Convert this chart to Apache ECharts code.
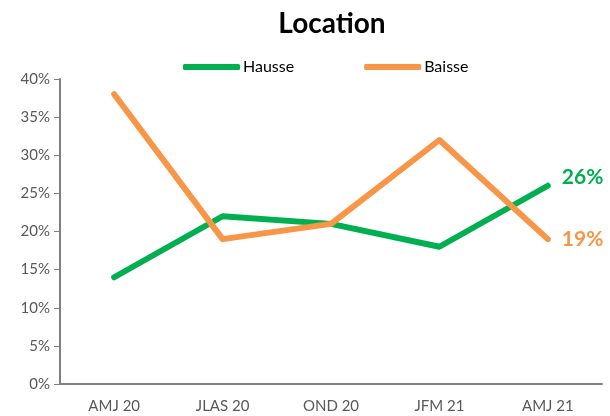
<!DOCTYPE html>
<html>
<head>
<meta charset="utf-8">
<script src="https://cdn.jsdelivr.net/npm/echarts@6/dist/echarts.min.js"></script>
<style>
  html, body { margin: 0; padding: 0; background: #fff; }
  #myChart { width: 610px; height: 416px; }
</style>
</head>
<body>
<div id="myChart"></div>
<script type="text/javascript">
var categories = ['AMJ 20', 'JLAS 20', 'OND 20', 'JFM 21', 'AMJ 21']
var hausse = [14, 22, 21, 18, 26]
var baisse = [38, 19, 21, 32, 19]
var yTicks = [0, 5, 10, 15, 20, 25, 30, 35, 40]

var font = 'Lato, "Open Sans", sans-serif'

// value label at the end of each line
function endLabel(color, offset) {
  return {
    show: true,
    distance: 14,
    offset: offset,
    color: color,
    fontSize: 21,
    fontWeight: 'bold',
    fontFamily: font,
    formatter: function (p) { return p.value + '%' }
  }
}

let myChart = echarts.init(document.getElementById('myChart'))
myChart.setOption({
  animation: false,
  title: {
    text: 'Location',
    left: 327,
    textAlign: 'center',
    top: 5,
    textStyle: { fontSize: 28, fontWeight: 'bold', color: '#000', fontFamily: font }
  },
  legend: {
    top: 54,
    left: 178,
    itemGap: 70,
    itemWidth: 57,
    itemHeight: 6,
    icon: 'roundRect',
    textStyle: { fontSize: 16, color: '#000', fontFamily: font, padding: [0, 0, 0, -2] },
    data: ['Hausse', 'Baisse']
  },
  grid: { left: 60, right: 8, top: 79, bottom: 32 },
  xAxis: [{
    type: 'category',
    data: categories,
    boundaryGap: true,
    axisTick: { show: false },
    axisLine: { lineStyle: { color: '#7f7f7f', width: 2 } },
    axisLabel: { color: '#595959', fontSize: 15, fontFamily: font, margin: 15 }
  }],
  yAxis: [{
    type: 'value',
    min: yTicks[0],
    max: yTicks[yTicks.length - 1],
    interval: 5,
    splitLine: { show: false },
    axisLine: { show: true, lineStyle: { color: '#7f7f7f', width: 2 } },
    axisTick: { show: true, length: 6, lineStyle: { color: '#7f7f7f', width: 1 } },
    axisLabel: { color: '#595959', fontSize: 15, fontFamily: font, margin: 10, formatter: '{value}%' }
  }],
  series: [
    {
      name: 'Hausse',
      type: 'line',
      data: hausse,
      color: '#00b050',
      symbol: 'none',
      lineStyle: { width: 6, cap: 'round', join: 'round' },
      endLabel: endLabel('#00b050', [0, -9]),
      z: 2
    },
    {
      name: 'Baisse',
      type: 'line',
      data: baisse,
      color: '#f79646',
      symbol: 'none',
      lineStyle: { width: 6, cap: 'round', join: 'round' },
      endLabel: endLabel('#f79646', [0, 0]),
      z: 3
    }
  ]
})
</script>
</body>
</html>
